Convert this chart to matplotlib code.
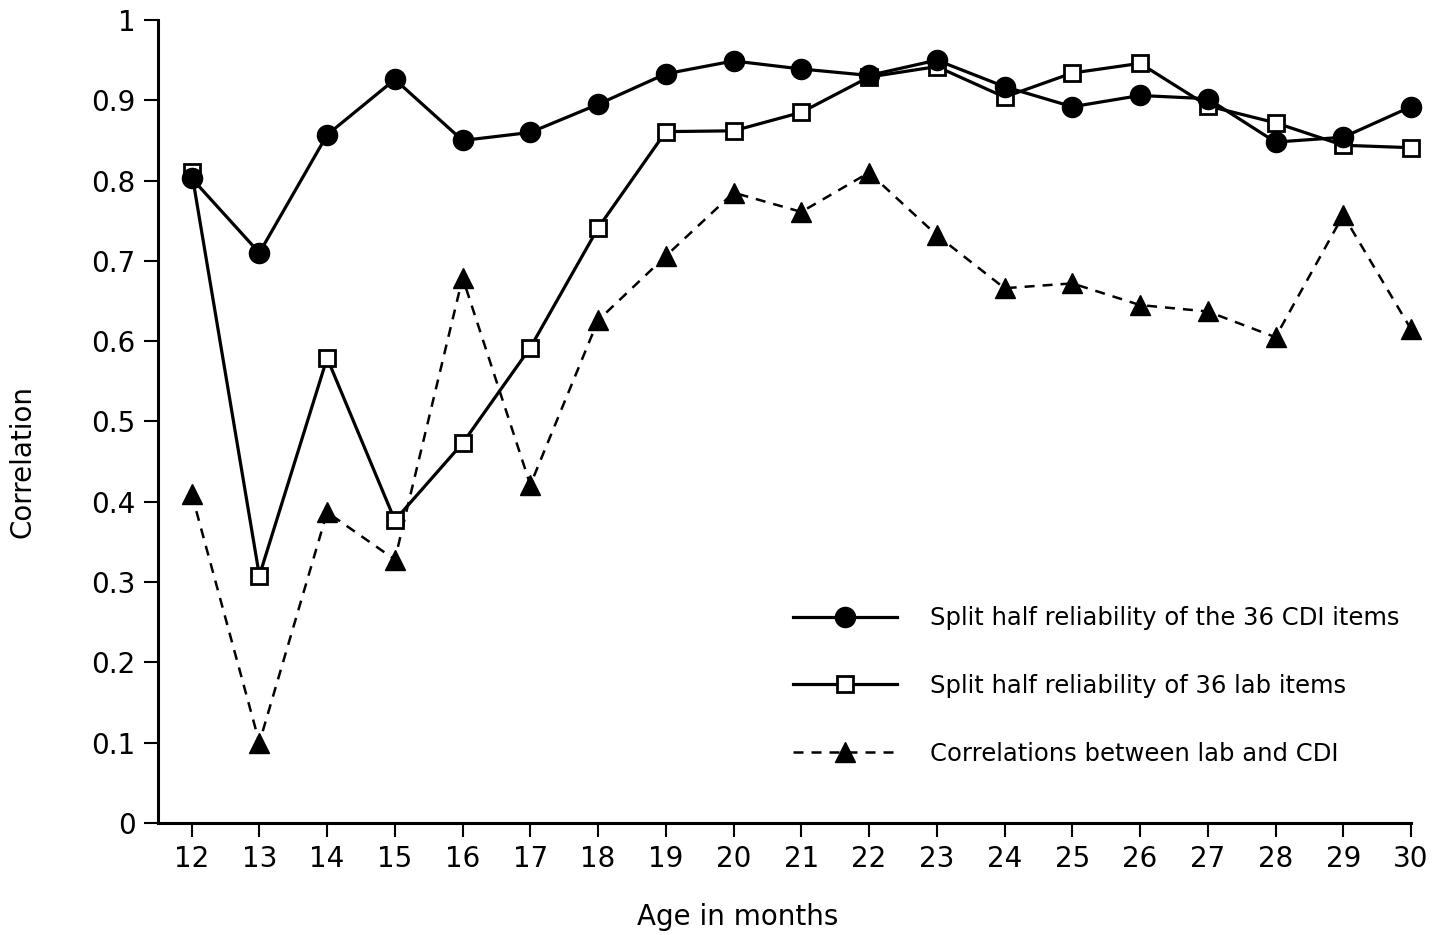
import matplotlib
matplotlib.use("Agg")
import matplotlib.pyplot as plt

plt.rcParams['font.family'] = ['DejaVu Sans']

ages = list(range(12, 31))
cdi_split = [0.803, 0.710, 0.857, 0.926, 0.850, 0.860, 0.895, 0.933, 0.949, 0.939,
             0.931, 0.950, 0.917, 0.892, 0.906, 0.902, 0.848, 0.854, 0.892]
lab_split = [0.811, 0.308, 0.579, 0.377, 0.473, 0.592, 0.741, 0.861, 0.862, 0.885,
             0.929, 0.942, 0.904, 0.934, 0.946, 0.893, 0.872, 0.844, 0.841]
lab_cdi_corr = [0.410, 0.100, 0.387, 0.328, 0.679, 0.421, 0.626, 0.706, 0.785, 0.761,
                0.810, 0.732, 0.666, 0.672, 0.645, 0.637, 0.605, 0.757, 0.615]

labels = ["Split half reliability of the 36 CDI items",
          "Split half reliability of 36 lab items",
          "Correlations between lab and CDI"]
yticks = [0, 0.1, 0.2, 0.3, 0.4, 0.5, 0.6, 0.7, 0.8, 0.9, 1]
yticklabels = ["0", "0.1", "0.2", "0.3", "0.4", "0.5", "0.6", "0.7", "0.8", "0.9", "1"]

fig = plt.figure(figsize=(14.5, 9.35), dpi=100)
ax = fig.add_axes([0.1088, 0.1198, 0.8643, 0.8588])

l3, = ax.plot(ages, lab_cdi_corr, color='black', linewidth=1.8, linestyle=(0, (4.0, 3.2)),
              marker='^', markersize=14.5, markerfacecolor='black', markeredgecolor='black',
              zorder=3, clip_on=False)
l2, = ax.plot(ages, lab_split, color='black', linewidth=2.3, linestyle='-',
              marker='s', markersize=12, markerfacecolor='white', markeredgecolor='black',
              markeredgewidth=2.0, zorder=4, clip_on=False)
l1, = ax.plot(ages, cdi_split, color='black', linewidth=2.3, linestyle='-',
              marker='o', markersize=14.5, markerfacecolor='black', markeredgecolor='black',
              zorder=5, clip_on=False)

ax.set_xlim(11.5, 30)
ax.set_ylim(0, 1)
ax.set_xticks(ages)
ax.set_xticklabels([str(a) for a in ages])
ax.set_yticks(yticks)
ax.set_yticklabels(yticklabels)

for s in ['top', 'right']:
    ax.spines[s].set_visible(False)
for s in ['left', 'bottom']:
    ax.spines[s].set_linewidth(2.2)

ax.tick_params(direction='out', length=10, width=1.5, labelsize=20, pad=6, color='black')

fig.text(738 / 1450, 1 - 925 / 935, "Age in months", fontsize=20, ha='center', va='baseline')
fig.text(23 / 1450, 1 - 462 / 935, "Correlation", fontsize=20, ha='center', va='center',
         rotation=90)

leg = ax.legend([l1, l2, l3], labels, loc='center left',
                bbox_to_anchor=(793 / 1450, 1 - 686 / 935), bbox_transform=fig.transFigure,
                frameon=False, fontsize=17.5, handlelength=4.28, handletextpad=1.36,
                labelspacing=1.8, borderpad=0, borderaxespad=0, numpoints=1)

fig.savefig("out.png", dpi=100)
